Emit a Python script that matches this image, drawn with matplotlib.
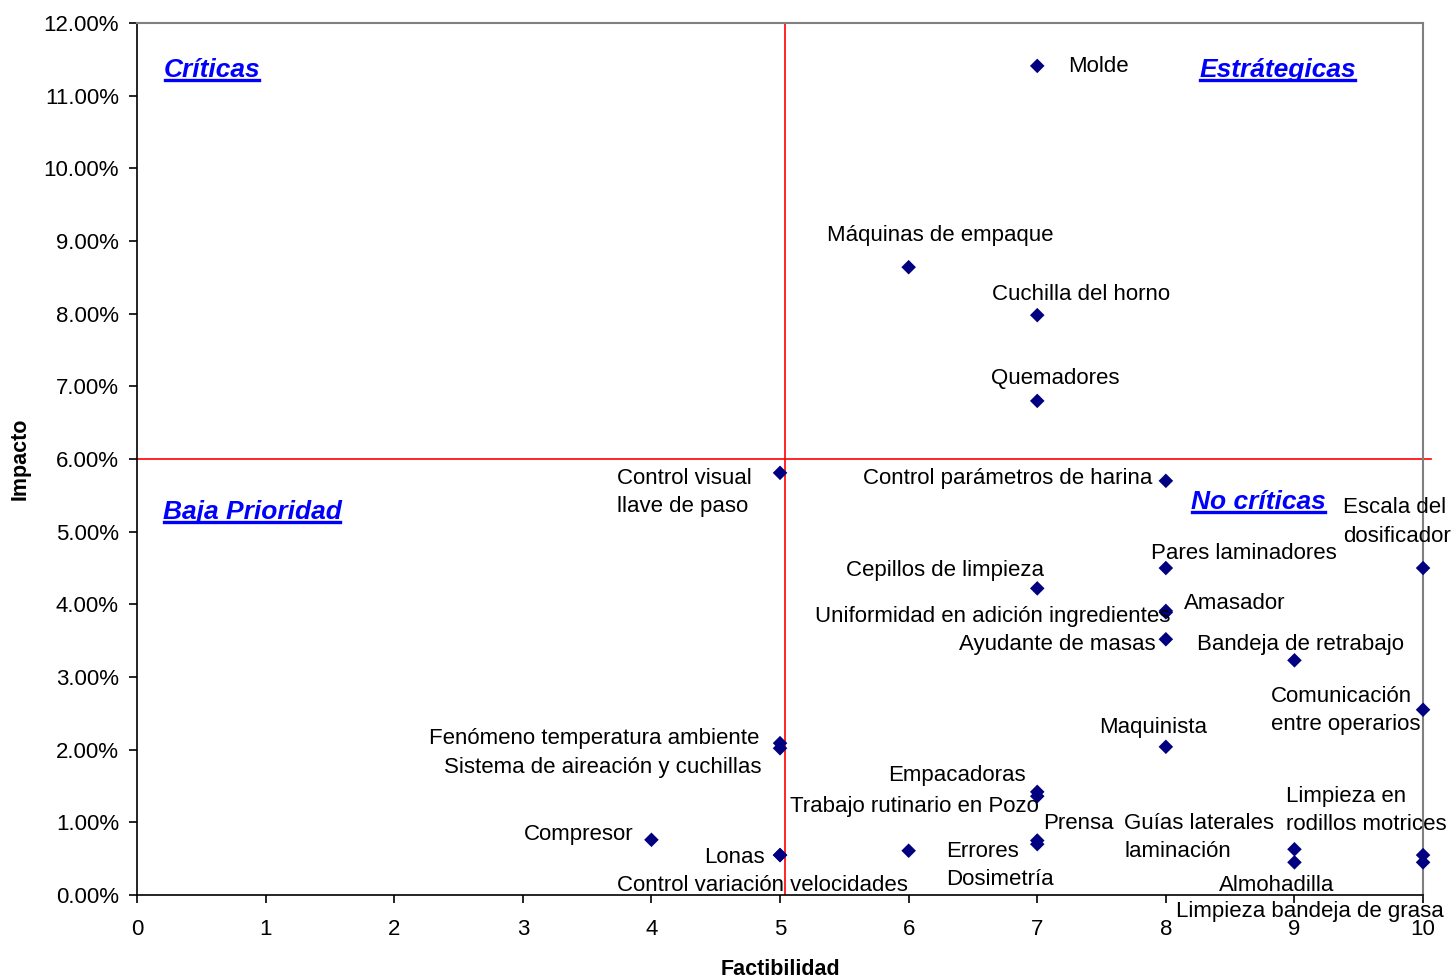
import matplotlib
matplotlib.use('Agg')
import matplotlib.pyplot as plt
from matplotlib.lines import Line2D
from matplotlib.ticker import FuncFormatter

plt.rcParams['font.family'] = ['Liberation Sans', 'DejaVu Sans']

# factibilidad (x) vs impacto (%) for each cause
factibilidad = [7, 6, 7, 7, 5, 8, 10, 8, 7, 8, 8, 8, 9, 10, 8, 5, 5, 7, 7, 4,
                5, 5, 6, 7, 7, 9, 9, 10, 10]
impacto = [11.41, 8.64, 7.98, 6.80, 5.81, 5.70, 4.50, 4.50, 4.22, 3.91, 3.89,
           3.52, 3.23, 2.55, 2.04, 2.09, 2.02, 1.42, 1.36, 0.76, 0.55, 0.55,
           0.61, 0.75, 0.70, 0.63, 0.45, 0.55, 0.45]
etiquetas = ['Molde', 'Máquinas de empaque', 'Cuchilla del horno', 'Quemadores',
             'Control visual\nllave de paso', 'Control parámetros de harina',
             'Escala del\ndosificador', 'Pares laminadores', 'Cepillos de limpieza',
             'Uniformidad en adición ingredientes', 'Amasador', 'Ayudante de masas',
             'Bandeja de retrabajo', 'Comunicación\nentre operarios', 'Maquinista',
             'Fenómeno temperatura ambiente', 'Sistema de aireación y cuchillas',
             'Empacadoras', 'Trabajo rutinario en Pozo', 'Compresor', 'Lonas',
             'Control variación velocidades', 'Errores\nDosimetría', 'Prensa',
             'Guías laterales\nlaminación', 'Limpieza en\nrodillos motrices',
             'Almohadilla', 'Limpieza bandeja de grasa', '']

# label placement: offset in pixels from the marker, horizontal alignment
offsets = [(31, 2, 'left'), (32, 35, 'center'), (44, 24, 'center'), (18, 25, 'center'),
           (-28, -17, 'right'), (-13, 5, 'right'), (-80, 49, 'left'), (78, 18, 'center'),
           (-92, 21, 'center'), (5, -3, 'right'), (18, 12, 'left'), (-10, -2, 'right'),
           (6, 19, 'center'), (-152, 2, 'left'), (-13, 22, 'center'), (-21, 8, 'right'),
           (-19, -16, 'right'), (-80, 19, 'center'), (2, -7, 'right'), (-18, 8, 'right'),
           (-15, 1, 'right'), (-18, -27, 'center'), (37, -12, 'left'), (6, 20, 'left'),
           (87, 10, 'left'), (-8, 42, 'left'), (-18, -20, 'center'), (-113, -53, 'center'),
           (0, 0, 'left')]

fig = plt.figure(figsize=(14.53, 9.8), dpi=100)
ax = fig.add_axes([0.0943, 0.0867, 0.8851, 0.8898])

ax.set_xlim(0, 10)
ax.set_ylim(0, 12)
ax.set_xticks(range(0, 11))
ax.set_yticks(range(0, 13))
ax.yaxis.set_major_formatter(FuncFormatter(lambda v, p: '%.2f%%' % v))
ax.tick_params(axis='both', direction='out', length=6, width=1.2, labelsize=16)
ax.tick_params(axis='y', pad=7)
ax.tick_params(axis='x', pad=11)

for s in ['top', 'right']:
    ax.spines[s].set_color('#808080')
    ax.spines[s].set_linewidth(1.5)
for s in ['left', 'bottom']:
    ax.spines[s].set_color('#000000')
    ax.spines[s].set_linewidth(1.2)

# quadrant dividers
ax.plot([0, 10.06], [6, 6], color='#ff0000', lw=1.2, clip_on=False, zorder=2)
ax.plot([5.04, 5.04], [0, 12], color='#ff0000', lw=1.2, zorder=2)

ax.scatter(factibilidad, impacto, marker='D', s=55, color='#000080',
           edgecolors='none', zorder=4, clip_on=False)

for x, y, t, (dx, dy, ha) in zip(factibilidad, impacto, etiquetas, offsets):
    if t:
        ax.annotate(t, (x, y), xytext=(dx, dy - 3), textcoords='offset pixels',
                    ha=ha, va='center', fontsize=16, linespacing=1.45,
                    multialignment='left', zorder=5, annotation_clip=False)

ax.set_xlabel('Factibilidad', fontsize=15.5, fontweight='bold', labelpad=14)
ax.set_ylabel('Impacto', fontsize=15.5, fontweight='bold', labelpad=9)

cuadrantes = ['Críticas', 'Estrátegicas', 'Baja Prioridad', 'No críticas']
pos_cuadrantes = [(0.0583, 0.946), (0.887, 0.946), (0.0894, 0.439), (0.872, 0.451)]
titulos = []
for t, (px, py) in zip(cuadrantes, pos_cuadrantes):
    titulos.append(ax.text(px, py, t, transform=ax.transAxes, ha='center', va='center',
                           fontsize=19, fontweight='bold', fontstyle='italic',
                           color='#0000ff', zorder=5))

# underline the quadrant titles
fig.canvas.draw()
r = fig.canvas.get_renderer()
for tx in titulos:
    bb = tx.get_window_extent(renderer=r)
    yb = bb.y0 + 2
    fig.add_artist(Line2D([bb.x0 + 1, bb.x1 - 1], [yb, yb], transform=None,
                          color='#0000ff', lw=2.4))

fig.savefig('out.png', dpi=100)
